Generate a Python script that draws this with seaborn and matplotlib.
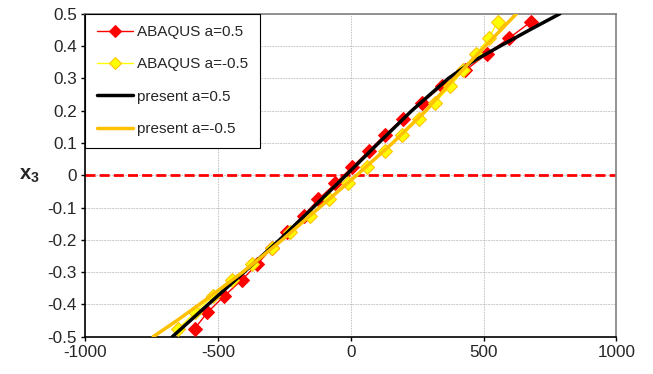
import matplotlib
matplotlib.use("Agg")
import matplotlib.pyplot as plt
import seaborn as sns
import pandas as pd

# ABAQUS results (x3 levels and stress values)
abaqus_x3 = [-0.475, -0.425, -0.375, -0.325, -0.275, -0.225, -0.175, -0.125, -0.075, -0.025,
             0.025, 0.075, 0.125, 0.175, 0.225, 0.275, 0.325, 0.375, 0.425, 0.475]
abaqus_a_pos = [-588, -540, -478, -411, -352, -297, -240, -178, -122, -58,
                5, 67, 129, 197, 268, 342, 432, 512, 597, 679]
abaqus_a_neg = [-650, -587, -520, -449, -373, -297, -228, -154, -81, -9,
                60, 129, 192, 258, 317, 374, 424, 472, 520, 553]

# present model curves
present_pos_x3 = [-0.5, -0.4, -0.3, -0.2, -0.1, 0.0, 0.1, 0.2, 0.3, 0.35, 0.4, 0.45, 0.5]
present_pos = [-672, -537, -402, -268, -142, -18, 105, 230, 368, 455, 563, 674, 788]
present_neg_x3 = [-0.5, -0.45, -0.4, -0.3, -0.2, -0.1, 0.0, 0.1, 0.2, 0.3, 0.4, 0.5]
present_neg = [-744, -655, -570, -407, -258, -118, 22, 158, 283, 390, 507, 624]

zero_level = 0.0
x_ticks = [-1000, -500, 0, 500, 1000]
y_ticks = [-0.5, -0.4, -0.3, -0.2, -0.1, 0, 0.1, 0.2, 0.3, 0.4, 0.5]
y_tick_labels = ["-0.5", "-0.4", "-0.3", "-0.2", "-0.1", "0", "0.1", "0.2", "0.3", "0.4", "0.5"]

sns.set_style("white")
plt.rcParams["font.family"] = ["Liberation Sans", "DejaVu Sans"]
plt.rcParams["mathtext.fontset"] = "custom"
plt.rcParams["mathtext.rm"] = "Liberation Sans"
plt.rcParams["mathtext.bf"] = "Liberation Sans:bold"

fig = plt.figure(figsize=(6.53, 3.74), dpi=100)
ax = fig.add_axes([0.1306, 0.0997, 0.8132, 0.8637])

df_pos = pd.DataFrame({"s": abaqus_a_pos, "x3": abaqus_x3})
df_neg = pd.DataFrame({"s": abaqus_a_neg, "x3": abaqus_x3})
df_ppos = pd.DataFrame({"s": present_pos, "x3": present_pos_x3})
df_pneg = pd.DataFrame({"s": present_neg, "x3": present_neg_x3})

ax.axhline(zero_level, color="#FF0000", lw=2.0, dashes=(3.6, 1.5), zorder=1)

sns.lineplot(data=df_pos, x="s", y="x3", sort=False, estimator=None, ax=ax,
             color="#FF0000", lw=1.0, marker="D", markersize=7,
             markerfacecolor="#FF0000", markeredgecolor="#FF0000",
             label="ABAQUS a=0.5", zorder=3)
sns.lineplot(data=df_neg, x="s", y="x3", sort=False, estimator=None, ax=ax,
             color="#FFFF00", lw=1.0, marker="D", markersize=7,
             markerfacecolor="#FFFF00", markeredgecolor="#FFC000",
             label="ABAQUS a=-0.5", zorder=3)
sns.lineplot(data=df_ppos, x="s", y="x3", sort=False, estimator=None, ax=ax,
             color="black", lw=2.5, label="present a=0.5", zorder=4)
sns.lineplot(data=df_pneg, x="s", y="x3", sort=False, estimator=None, ax=ax,
             color="#FFC000", lw=2.5, label="present a=-0.5", zorder=4)

ax.set_xlim(-1000, 1000)
ax.set_ylim(-0.5, 0.5)
ax.set_xticks(x_ticks)
ax.set_xticklabels([str(t) for t in x_ticks])
ax.set_yticks(y_ticks)
ax.set_yticklabels(y_tick_labels)
ax.tick_params(axis="both", labelsize=12.3, length=3, width=1, color="black",
               direction="out", pad=3, left=True, bottom=True)
ax.grid(True, color="#bdbdbd", lw=0.6, linestyle=(0, (2, 1.2)))
ax.set_axisbelow(True)

for s in ["left", "bottom"]:
    ax.spines[s].set_color("black")
    ax.spines[s].set_linewidth(1.2)
for s in ["top", "right"]:
    ax.spines[s].set_color("#808080")
    ax.spines[s].set_linewidth(1.2)

ax.set_xlabel("")
ax.set_ylabel(r"$\mathbf{x}_{\mathbf{3}}$", rotation=0, fontsize=14.5, va="center")
ax.yaxis.set_label_coords(-0.105, 0.5)

leg = ax.legend(loc="upper left", bbox_to_anchor=(0.0, 1.0), borderaxespad=0.0,
                fontsize=11, frameon=True, fancybox=False, edgecolor="black",
                framealpha=1.0, handlelength=2.4, handletextpad=0.25,
                borderpad=0.75, labelspacing=1.2)
leg.get_frame().set_linewidth(0.8)
for h in leg.legend_handles:
    h.set_markersize(6)

fig.savefig("out.png", dpi=100)
